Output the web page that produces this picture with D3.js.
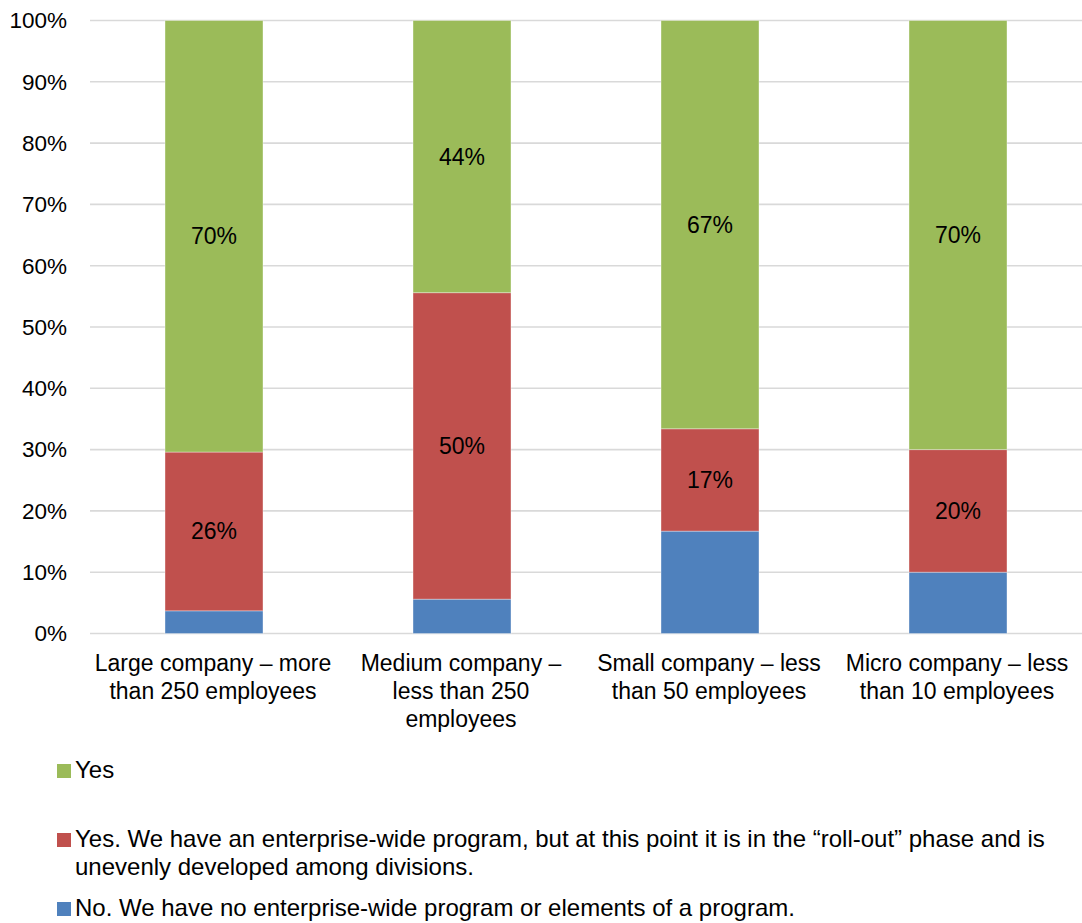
<!DOCTYPE html>
<html>
<head>
<meta charset="utf-8">
<script src="https://cdn.jsdelivr.net/npm/d3@7"></script>
<style>
  html, body { margin: 0; padding: 0; background: #fff; }
  svg { display: block; font-family: "Liberation Sans", Arial, sans-serif; }
</style>
</head>
<body>
<svg id="chart" width="1082" height="923"></svg>
<script>
// Company size categories (each label split into its display lines)
const categories = [
  ["Large company \u2013 more", "than 250 employees"],
  ["Medium company \u2013", "less than 250", "employees"],
  ["Small company \u2013 less", "than 50 employees"],
  ["Micro company \u2013 less", "than 10 employees"]
];

// Share of respondents per answer (percent), stacked bottom to top
const noProgram = [3.7, 5.6, 16.7, 10];
const rollOut   = [25.9, 50, 16.7, 20];
const yesFull   = [70.4, 44.4, 66.6, 70];

const yTicks = [0, 10, 20, 30, 40, 50, 60, 70, 80, 90, 100];

const seriesNames = [
  "No. We have no enterprise-wide program or elements of a program.",
  "Yes. We have an enterprise-wide program, but at this point it is in the \u201croll-out\u201d phase and is unevenly developed among divisions.",
  "Yes"
];
const seriesColors = ["#4F81BD", "#C0504D", "#9BBB59"];
const showLabel = [false, true, true];

const svg = d3.select("#chart");
const plot = { left: 90, right: 1082, top: 20.5, bottom: 633.5 };

const keys = ["no", "roll", "yes"];
const rows = categories.map((c, i) => ({
  idx: i, no: noProgram[i], roll: rollOut[i], yes: yesFull[i]
}));
const stacked = d3.stack().keys(keys)(rows);

const x = d3.scaleBand()
  .domain(d3.range(categories.length))
  .range([plot.left, plot.right])
  .paddingInner(0.605)
  .paddingOuter(0.3025);

const y = d3.scaleLinear().domain([0, 100]).range([plot.bottom, plot.top]);

// Horizontal gridlines
svg.append("g")
  .selectAll("line")
  .data(yTicks)
  .join("line")
  .attr("x1", plot.left).attr("x2", plot.right)
  .attr("y1", d => y(d)).attr("y2", d => y(d))
  .attr("stroke", "#d9d9d9")
  .attr("stroke-width", 1.6);

// Y axis tick labels
svg.append("g")
  .selectAll("text")
  .data(yTicks)
  .join("text")
  .attr("x", 67)
  .attr("y", d => y(d))
  .attr("dy", "0.35em")
  .attr("text-anchor", "end")
  .attr("font-size", 22.5)
  .attr("fill", "#000")
  .text(d => d + "%");

// Stacked bars
const layers = svg.append("g")
  .selectAll("g")
  .data(stacked)
  .join("g")
  .attr("fill", (d, i) => seriesColors[i]);

layers.selectAll("rect")
  .data(d => d)
  .join("rect")
  .attr("x", d => x(d.data.idx))
  .attr("width", x.bandwidth())
  .attr("y", d => y(d[1]))
  .attr("height", d => y(d[0]) - y(d[1]))
  .attr("stroke", "rgba(255,255,255,0.35)")
  .attr("stroke-width", 1);

// Segment value labels
stacked.forEach((layer, si) => {
  if (!showLabel[si]) return;
  svg.append("g")
    .selectAll("text")
    .data(layer)
    .join("text")
    .attr("x", d => x(d.data.idx) + x.bandwidth() / 2)
    .attr("y", d => (y(d[0]) + y(d[1])) / 2)
    .attr("dy", "0.35em")
    .attr("text-anchor", "middle")
    .attr("font-size", 23)
    .attr("fill", "#000")
    .text(d => Math.round(d[1] - d[0]) + "%");
});

// Category labels
const catG = svg.append("g");
categories.forEach((lines, i) => {
  const t = catG.append("text")
    .attr("text-anchor", "middle")
    .attr("font-size", 23)
    .attr("fill", "#000");
  lines.forEach((ln, j) => {
    t.append("tspan")
      .attr("x", x(i) + x.bandwidth() / 2 - 1)
      .attr("y", 671 + j * 28)
      .text(ln);
  });
});

// Legend (top to bottom: Yes, roll-out, No)
const legendItems = [
  { s: 2, lines: [seriesNames[2]], y: 778 },
  { s: 1, lines: ["Yes. We have an enterprise-wide program, but at this point it is in the \u201croll-out\u201d phase and is", "unevenly developed among divisions."], y: 847 },
  { s: 0, lines: [seriesNames[0]], y: 916 }
];
const leg = svg.append("g");
legendItems.forEach(item => {
  leg.append("rect")
    .attr("x", 57).attr("y", item.y - 14)
    .attr("width", 14).attr("height", 14)
    .attr("fill", seriesColors[item.s]);
  const t = leg.append("text").attr("font-size", 24).attr("fill", "#000");
  item.lines.forEach((ln, j) => {
    t.append("tspan").attr("x", 75).attr("y", item.y + j * 28).text(ln);
  });
});
</script>
</body>
</html>
